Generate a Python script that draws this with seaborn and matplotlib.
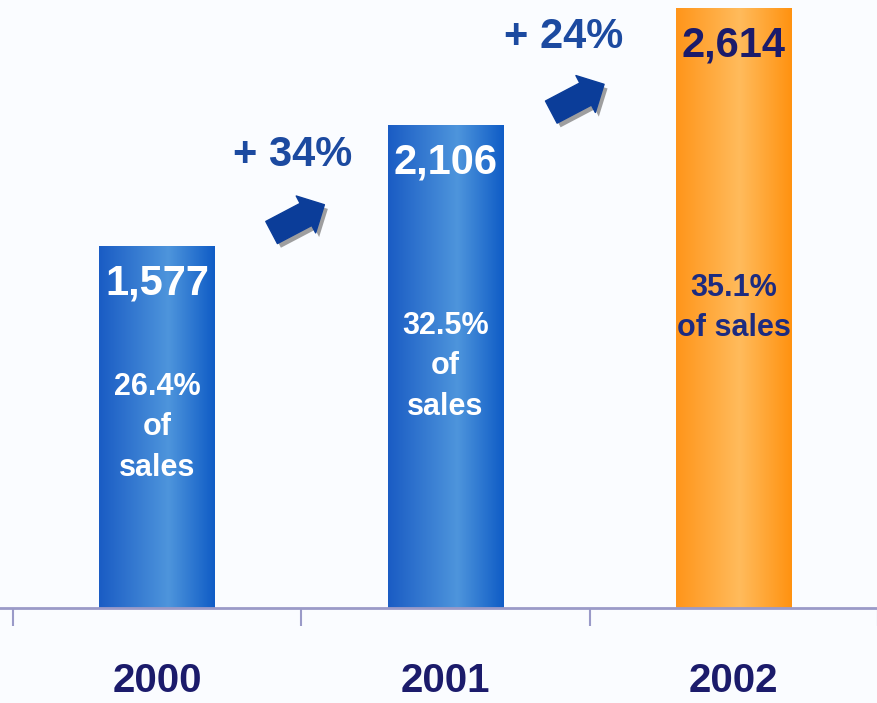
import numpy as np
import pandas as pd
import matplotlib
matplotlib.use("Agg")
import matplotlib.pyplot as plt
import matplotlib.patheffects as pe
from matplotlib.colors import LinearSegmentedColormap
import seaborn as sns

# chart data
years = ["2000", "2001", "2002"]
sales = [1577, 2106, 2614]
share_labels = ["26.4%\nof\nsales", "32.5%\nof\nsales", "35.1%\nof sales"]
growth_labels = ["+ 34%", "+ 24%"]

sns.set_theme(style="white")
plt.rcParams["font.family"] = ["Liberation Sans", "DejaVu Sans"]

bg = "#fafcff"
navy = "#1b1b6b"
blue_txt = "#1c4aa0"
arrow_col = "#0b3d99"

fig = plt.figure(figsize=(8.78, 7.03), dpi=100, facecolor=bg)
ax = fig.add_axes([0, 0.135, 1, 0.865], facecolor=bg)

df = pd.DataFrame({"year": years, "sales": sales})
sns.barplot(data=df, x="year", y="sales", color="#2a6cd0", width=0.40,
            saturation=1, ax=ax, zorder=2)

# horizontal gradient fill for each bar
blue_cmap = LinearSegmentedColormap.from_list(
    "b", [(0, "#1a5cc4"), (0.6, "#4e95dc"), (1, "#0f5cc6")])
orange_cmap = LinearSegmentedColormap.from_list(
    "o", [(0, "#ff951a"), (0.55, "#ffbb5c"), (1, "#ff9210")])
grad = np.linspace(0, 1, 256).reshape(1, -1)
for i, patch in enumerate(ax.patches):
    patch.set_edgecolor("none")
    x0, y0 = patch.get_x(), patch.get_y()
    w, h = patch.get_width(), patch.get_height()
    cmap = orange_cmap if i == len(years) - 1 else blue_cmap
    im = ax.imshow(grad, cmap=cmap, extent=[x0, x0 + w, y0, y0 + h],
                   aspect="auto", zorder=2.5)
    im.set_clip_path(patch)

ax.set_xlim(-0.545, 2.472)
ax.set_ylim(0, 2650)

# value and share labels inside the bars
for i, (v, s) in enumerate(zip(sales, share_labels)):
    col = navy if i == len(years) - 1 else "white"
    ax.annotate(f"{v:,}", xy=(i, v), xytext=(0, -27), textcoords="offset points",
                ha="center", va="center", fontsize=30, fontweight="bold",
                color=col, zorder=5)
    ax.text(i, v / 2, s, ha="center", va="center", fontsize=22,
            fontweight="bold", color=col if i < 2 else "#1c2b80",
            linespacing=1.45, zorder=5)

# growth labels and arrows between bars
shadow = [pe.SimplePatchShadow(offset=(2.5, -3), shadow_rgbFace="#777777", alpha=0.7),
          pe.Normal()]
for i, g in enumerate(growth_labels):
    a, b = sales[i], sales[i + 1]
    ax.text(i + 0.47 - 0.06 * i, a + 0.75 * (b - a), g, ha="center", va="center",
            fontsize=30, fontweight="bold", color=blue_txt, zorder=5)
    arr = ax.annotate("", xy=(i + 0.58 - 0.03 * i, a + 0.2 * (b - a) + 75),
                      xytext=(-38, -20), textcoords="offset points",
                      arrowprops=dict(arrowstyle="simple,head_width=1.5,head_length=0.75,tail_width=0.9",
                                      fc=arrow_col, ec=arrow_col, mutation_scale=20,
                                      shrinkA=0, shrinkB=0),
                      zorder=5)
    arr.arrow_patch.set_path_effects(shadow)

# axis: baseline with boundary ticks, year labels below
for side in ["left", "right", "top"]:
    ax.spines[side].set_visible(False)
ax.spines["bottom"].set_color("#9a9ac8")
ax.spines["bottom"].set_linewidth(2)
ax.set_xticks([-0.5, 0.5, 1.5, 2.5])
ax.set_xticklabels([])
ax.tick_params(axis="x", direction="out", length=13, width=1.5, color="#9a9ac8",
               bottom=True)
ax.set_yticks([])
ax.set_xlabel("")
ax.set_ylabel("")
trans = ax.get_xaxis_transform()
for i, y in enumerate(years):
    ax.text(i, -0.12, y, transform=trans, ha="center", va="center",
            fontsize=29, fontweight="bold", color=navy)

fig.savefig("out.png", dpi=100, facecolor=bg)
